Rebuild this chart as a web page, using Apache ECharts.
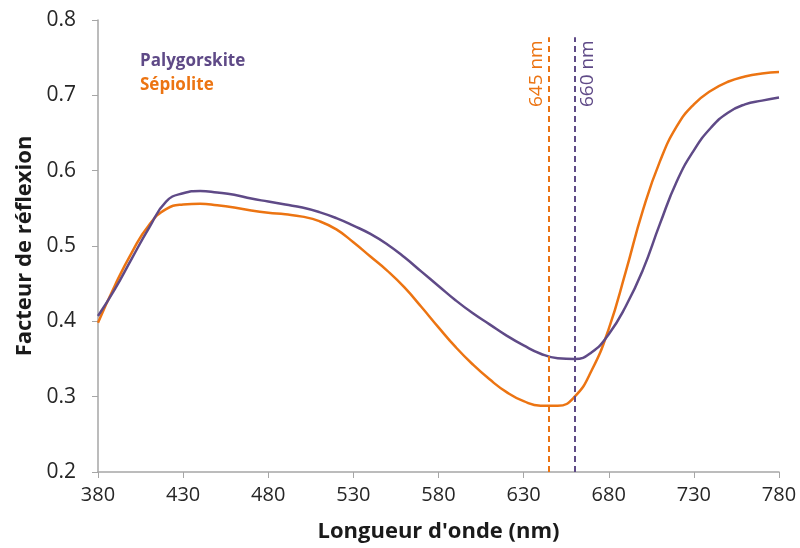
<!DOCTYPE html>
<html><head><meta charset="utf-8">
<script src="https://cdn.jsdelivr.net/npm/echarts@6/dist/echarts.min.js"></script>
<style>html,body{margin:0;padding:0;background:#fff}#c{width:800px;height:548px}</style>
</head><body><div id="c"></div>
<script>
const wavelengths = [380,390,400,410,420,430,440,450,460,470,480,490,500,510,520,530,540,550,560,570,580,590,600,610,620,630,640,650,660,670,680,690,700,710,720,730,740,750,760,770,780];
const palygorskite = [0.407,0.443,0.484,0.524,0.559,0.570,0.573,0.571,0.568,0.563,0.559,0.555,0.551,0.545,0.537,0.527,0.516,0.502,0.485,0.466,0.447,0.428,0.411,0.396,0.381,0.368,0.357,0.351,0.350,0.359,0.383,0.420,0.468,0.529,0.586,0.627,0.657,0.677,0.688,0.693,0.697];
const sepiolite = [0.398,0.448,0.492,0.528,0.549,0.555,0.556,0.554,0.551,0.547,0.544,0.542,0.539,0.533,0.522,0.505,0.486,0.467,0.445,0.419,0.392,0.366,0.343,0.323,0.306,0.294,0.288,0.288,0.300,0.335,0.390,0.466,0.547,0.612,0.659,0.688,0.706,0.718,0.725,0.729,0.731];
const xTicks = [380,430,480,530,580,630,680,730,780];
const markers = [645, 660];
const seriesNames = ['Palygorskite','Sépiolite'];
const colors = ['#5F4A87','#EC7412'];
const FONT = 'Open Sans';

const chart = echarts.init(document.getElementById('c'));
function pairs(vals){ return wavelengths.map((w,i)=>[w, vals[i]]); }
function vline(x, color, pos){
  return {
    silent: true, symbol: ['none','none'],
    lineStyle: {color: color, type: [6,4], width: 2},
    label: {show: true, position: pos, formatter: x + ' nm', color: color, fontFamily: FONT, fontSize: 19, distance: 3},
    data: [[{coord:[x, 0.2]}, {coord:[x, 0.777]}]]
  };
}
chart.setOption({
  animation: false,
  grid: {left: 98, right: 21, top: 20, bottom: 75, containLabel: false},
  legend: {
    orient: 'vertical', left: 130, top: 48, itemWidth: 0, itemHeight: 0, itemGap: 7,
    icon: 'rect', selectedMode: false,
    data: [
      {name: seriesNames[0], textStyle: {color: colors[0]}},
      {name: seriesNames[1], textStyle: {color: colors[1]}}
    ],
    textStyle: {fontFamily: FONT, fontSize: 17, fontWeight: 'bold'}
  },
  xAxis: {
    type: 'value', min: 380, max: 780,
    name: "Longueur d'onde (nm)", nameLocation: 'middle', nameGap: 49,
    nameTextStyle: {fontFamily: FONT, fontSize: 22, fontWeight: 'bold', color: '#1a1a1a'},
    axisLine: {show: true, lineStyle: {color: '#A6A6A6', width: 1.5}},
    axisTick: {show: true, customValues: xTicks, length: 6, lineStyle: {color: '#A6A6A6'}},
    axisLabel: {customValues: xTicks, margin: 13, fontFamily: FONT, fontSize: 20, color: '#262626'},
    splitLine: {show: false}
  },
  yAxis: {
    type: 'value', min: 0.2, max: 0.8, interval: 0.1,
    name: 'Facteur de réflexion', nameLocation: 'middle', nameGap: 62, nameRotate: 90,
    nameTextStyle: {fontFamily: FONT, fontSize: 22, fontWeight: 'bold', color: '#1a1a1a'},
    axisLine: {show: true, lineStyle: {color: '#A6A6A6', width: 1.5}},
    axisTick: {show: true, length: 6, lineStyle: {color: '#A6A6A6'}},
    axisLabel: {margin: 22, fontFamily: FONT, fontSize: 21, color: '#262626', formatter: v => v.toFixed(1)},
    splitLine: {show: false}
  },
  series: [
    {name: seriesNames[0], type: 'line', data: pairs(palygorskite), smooth: 0.5, showSymbol: false,
     lineStyle: {color: colors[0], width: 2.5}, itemStyle: {color: colors[0]}, z: 3,
     markLine: vline(markers[1], colors[0], 'insideEndBottom')},
    {name: seriesNames[1], type: 'line', data: pairs(sepiolite), smooth: 0.5, showSymbol: false,
     lineStyle: {color: colors[1], width: 2.5}, itemStyle: {color: colors[1]}, z: 2,
     markLine: vline(markers[0], colors[1], 'insideEndTop')}
  ]
});
</script></body></html>
